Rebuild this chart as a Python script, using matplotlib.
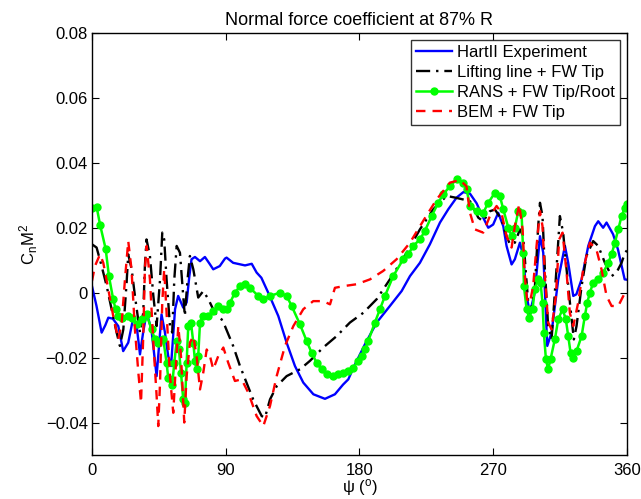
import matplotlib
matplotlib.use("Agg")
import matplotlib.pyplot as plt

plt.rcParams['font.family'] = ['Liberation Sans', 'DejaVu Sans']
plt.rcParams['mathtext.fontset'] = 'custom'
plt.rcParams['mathtext.rm'] = 'Liberation Sans'
plt.rcParams['mathtext.it'] = 'Liberation Sans:italic'
plt.rcParams['axes.unicode_minus'] = True

title = "Normal force coefficient at 87% R"
series_names = ["HartII Experiment", "Lifting line + FW Tip", "RANS + FW Tip/Root", "BEM + FW Tip"]
x_ticks = [0, 90, 180, 270, 360]
y_ticks = [-0.04, -0.02, 0, 0.02, 0.04, 0.06, 0.08]
y_ticklabels = ["\u22120.04", "\u22120.02", "0", "0.02", "0.04", "0.06", "0.08"]

hart_psi = [0, 3, 6.5, 9, 11, 14, 17.7, 21, 24.4, 27.8, 30, 32.3, 34.5, 36.8, 40, 43.5, 46.8, 49, 51.3, 53.2,
            55.9, 58, 61.4, 63.7, 65.5, 67, 69.3, 72.7, 76, 79, 81.6, 86, 89.5, 90.6, 95, 99, 103, 107.5, 110.8,
            114, 118.6, 125.4, 131, 136.6, 142.2, 149, 156.8, 163.5, 169, 172.5, 177, 183.7, 191.6, 200.5, 208.4,
            214, 220.7, 227.4, 234.2, 239.8, 245.4, 250, 254.4, 258.9, 262.2, 266.7, 270, 273.4, 276.8, 279,
            282.4, 284.6, 288, 290.2, 292.5, 294.7, 298, 301.5, 303.7, 306.4, 309.3, 313.8, 318.3, 320.5, 323.9,
            326, 329.5, 334, 338.5, 340.7, 344, 346.3, 350.7, 354, 358.5, 360]
hart_c = [0.002, -0.004, -0.0123, -0.010, -0.0077, -0.008, -0.0103, -0.018, -0.0154, -0.0077, -0.010, -0.019,
          -0.012, -0.0062, -0.0113, -0.0257, -0.0067, -0.012, -0.0195, -0.0226, -0.0051, -0.001, -0.0046, -0.003,
          0.005, 0.0103, 0.011, 0.0097, 0.011, 0.009, 0.0072, 0.0082, 0.0105, 0.0108, 0.0092, 0.0088, 0.0084,
          0.0089, 0.0062, 0.0046, 0.0, -0.0072, -0.0154, -0.0226, -0.0277, -0.0313, -0.0327, -0.0313, -0.0283,
          -0.0267, -0.0221, -0.0159, -0.0092, -0.0041, 0.0005, 0.0051, 0.0092, 0.0149, 0.0216, 0.0257, 0.0293,
          0.031, 0.0305, 0.0275, 0.0241, 0.020, 0.021, 0.0246, 0.0205, 0.0144, 0.0087, 0.0103, 0.0154, 0.0113,
          -0.001, -0.0062, 0.0, 0.0174, 0.0123, -0.0164, -0.0123, 0.0041, 0.0144, 0.0092, -0.001, -0.0005,
          0.0041, 0.0144, 0.0205, 0.022, 0.020, 0.0216, 0.018, 0.0133, 0.0041, 0.004]

ll_psi = [0, 3.1, 6.5, 9.9, 13.2, 16.6, 18.8, 21.1, 23.3, 24.4, 26.7, 28.9, 32.3, 34.5, 35.6, 36.7, 39, 41.3,
          43.5, 45.8, 47.3, 48.6, 50.2, 52.5, 54, 55.4, 57, 59.2, 61.4, 62.5, 64.3, 65.9, 68.2, 71.5, 74.9, 78.3,
          82.7, 87.2, 89.5, 95, 99.6, 104, 108.5, 114.2, 116.4, 119.8, 124.3, 131, 140, 146.7, 155.6, 164.6,
          173.6, 182.6, 191.6, 200.5, 211.8, 220.7, 229.7, 238.7, 244.3, 249.9, 254.4, 260, 263.3, 267.8, 271.2,
          275.6, 279, 281.3, 284.6, 288, 290.2, 292, 293.6, 295.1, 298, 300.3, 301.5, 303.2, 304.8, 307, 309.3,
          312.6, 314.9, 317.1, 319.4, 322.1, 324.3, 326.1, 329.5, 332.8, 337.3, 340.7, 345.2, 349.7, 353, 356.4,
          358.7, 360]
ll_c = [0.0149, 0.0139, 0.0082, 0.002, -0.0051, -0.0123, -0.0164, -0.0113, 0.0031, 0.0118, 0.0072, -0.001,
        -0.0123, -0.0062, 0.0082, 0.0164, 0.0113, -0.001, -0.0103, 0.0041, 0.0185, 0.0164, 0.0041, -0.0103,
        -0.0123, 0.0041, 0.0144, 0.0123, -0.001, -0.0072, 0.0041, 0.0113, 0.0072, -0.0015, 0.0005, -0.002,
        -0.0062, -0.0082, -0.0103, -0.0164, -0.0226, -0.0277, -0.0329, -0.038, -0.0385, -0.0329, -0.0288,
        -0.0257, -0.0236, -0.021, -0.0169, -0.0134, -0.0092, -0.0062, -0.002, 0.0041, 0.0123, 0.0195, 0.0257,
        0.0298, 0.0293, 0.0287, 0.0282, 0.0231, 0.022, 0.0251, 0.0256, 0.0226, 0.0174, 0.0149, 0.0154, 0.0195,
        0.0174, 0.0062, -0.0031, -0.0062, 0.001, 0.0205, 0.0277, 0.0236, 0.0072, -0.0103, -0.0144, 0.0072,
        0.0236, 0.0185, 0.0072, -0.0051, -0.0144, -0.0103, 0.002, 0.0113, 0.0159, 0.0144, 0.0092, 0.0051,
        0.0062, 0.0092, 0.0123, 0.013]

rans_psi = [0, 3.1, 5.4, 9.2, 11.4, 14.3, 15.9, 17.7, 20, 24.4, 26.6, 30, 33.4, 36.7, 40.1, 42.4, 44.6, 48,
            50.2, 51.3, 54, 55.4, 57, 58.5, 59.9, 61.4, 62.6, 63.7, 64.8, 66.6, 68.2, 69.3, 70.4, 71.5, 72.7,
            74.9, 78.3, 81.6, 85, 88.4, 90.6, 92.9, 96.2, 99.6, 103, 106.3, 111.9, 115.3, 119.8, 126.5, 131,
            134.4, 140, 144.5, 147.8, 151.2, 154.5, 157.9, 162.4, 165.7, 169.1, 172.5, 175.8, 179.2, 181.4,
            183.7, 185.9, 190.4, 193.8, 197.2, 202.7, 209.5, 212.8, 216.2, 220.7, 224, 228.6, 233, 236.4, 240.9,
            245.4, 249.8, 252.1, 254.4, 258.9, 263.3, 266.7, 271.2, 274.5, 276.8, 280.2, 282.4, 284.6, 286.9,
            289.1, 290.2, 290.7, 292.5, 294.2, 296.5, 298, 300.3, 301.9, 303.2, 304.1, 305.5, 307, 308.6, 311.5,
            313.8, 316.7, 318.9, 320.5, 322.1, 323.9, 326.1, 329.5, 331.7, 333.3, 335.1, 337.3, 340.7, 344.1,
            347.4, 349.7, 351.9, 354.2, 356.4, 358.7, 360]
rans_c = [0.0262, 0.0265, 0.021, 0.0135, 0.0051, -0.0021, -0.0051, -0.0072, -0.0077, -0.0072, -0.0077,
          -0.0098, -0.0082, -0.0067, -0.0113, -0.0144, -0.0154, -0.0144, -0.0216, -0.0262, -0.0283, -0.0216,
          -0.0149, -0.0175, -0.0246, -0.0329, -0.0339, -0.0216, -0.0103, -0.0092, -0.0154, -0.021, -0.0236,
          -0.0195, -0.0092, -0.0072, -0.0072, -0.0057, -0.0041, -0.0051, -0.0051, -0.0031, 0.0, 0.002, 0.0026,
          0.0015, -0.001, -0.0021, -0.001, 0.0, -0.001, -0.0041, -0.0098, -0.0149, -0.0185, -0.0216, -0.0236,
          -0.0252, -0.0257, -0.0252, -0.0246, -0.0241, -0.0231, -0.021, -0.0195, -0.0175, -0.0149, -0.0092,
          -0.0051, -0.001, 0.0051, 0.0103, 0.0118, 0.0144, 0.0164, 0.019, 0.0236, 0.0277, 0.0303, 0.0328,
          0.0349, 0.0339, 0.0318, 0.0267, 0.0251, 0.0246, 0.0277, 0.0308, 0.0298, 0.0257, 0.020, 0.0174, 0.020,
          0.0251, 0.0246, 0.0123, 0.002, -0.0051, -0.0077, -0.0051, 0.001, 0.0041, 0.0031, -0.0031, -0.0123,
          -0.0205, -0.0236, -0.0205, -0.0144, -0.0082, -0.0051, -0.0082, -0.0134, -0.0185, -0.020, -0.018,
          -0.0134, -0.0072, -0.0031, 0.0, 0.0031, 0.0041, 0.0062, 0.0092, 0.0118, 0.0154, 0.0195, 0.0236, 0.0262,
          0.0272]

bem_psi = [0, 2, 5.4, 7.6, 11, 14.3, 17.7, 20, 22.2, 24.4, 26.6, 28.9, 31.2, 33, 34.5, 35.6, 36.8, 39, 41.3,
           43.5, 44.6, 45.8, 47.3, 48.6, 50.2, 52.5, 54.7, 56.3, 58.1, 59.9, 62.1, 63.7, 65.9, 68.2, 70.4, 72.7,
           74.9, 77.2, 79.4, 81.6, 85, 88.4, 91.7, 96.2, 100.7, 105.2, 110.8, 115.3, 119.8, 124.3, 129.9, 135.5,
           142.2, 148.9, 155.6, 160.2, 163.5, 169.1, 178.1, 187.1, 196, 205, 214, 222.9, 231.9, 240.9, 247.6,
           252, 254.4, 257.7, 263.3, 267.8, 272.3, 275.6, 279, 282.4, 284.6, 287.5, 289.8, 291.3, 292.8, 294.7,
           296.9, 299.2, 301.5, 303.2, 304.8, 307, 309.3, 312.2, 314.4, 316.7, 319.4, 321.6, 323.9, 327.2, 330.6,
           335.1, 339.5, 342.9, 346.3, 349.7, 354.2, 358.7, 360]
bem_c = [0.0036, 0.0082, 0.0118, 0.0092, 0.001, -0.0072, -0.0144, -0.0092, 0.0041, 0.0159, 0.0072, -0.0113,
         -0.0246, -0.0339, -0.0134, 0.0072, 0.0144, 0.0041, -0.0154, -0.0318, -0.0411, -0.0277, -0.0031, 0.0072,
         -0.0062, -0.0257, -0.037, -0.0236, -0.0103, -0.0195, -0.040, -0.0257, -0.0154, -0.0134, -0.0195,
         -0.0298, -0.0246, -0.0175, -0.0195, -0.0236, -0.0195, -0.0169, -0.0216, -0.0272, -0.0267, -0.0308,
         -0.038, -0.0411, -0.0349, -0.0257, -0.0164, -0.0103, -0.0051, -0.0026, -0.0026, -0.0036, 0.0015, 0.002,
         0.0026, 0.0041, 0.0067, 0.0103, 0.0154, 0.0221, 0.0287, 0.0339, 0.0347, 0.0328, 0.0246, 0.0195, 0.0185,
         0.0236, 0.0267, 0.0246, 0.0174, 0.0139, 0.0205, 0.0272, 0.0195, 0.0051, -0.0021, -0.0031, 0.002,
         0.0144, 0.0251, 0.0205, 0.0051, -0.0092, -0.0113, -0.001, 0.0164, 0.0185, 0.0062, -0.0062, -0.0103,
         -0.0031, 0.0072, 0.0154, 0.0133, 0.0072, -0.001, -0.0041, -0.0041, 0.0, 0.0005]

fig = plt.figure(figsize=(6.41, 4.99), dpi=100)
ax = fig.add_axes([0.1435, 0.0882, 0.8345, 0.8457])

ax.plot(hart_psi, hart_c, color=(0, 0, 1), lw=1.7, label=series_names[0])
ax.plot(ll_psi, ll_c, color='black', lw=1.7, linestyle=(0, (6, 2.5, 1, 2.5)), label=series_names[1])
ax.plot(rans_psi, rans_c, color=(0, 1, 0), lw=1.8, marker='o', markersize=5, label=series_names[2])
ax.plot(bem_psi, bem_c, color=(1, 0, 0), lw=1.7, linestyle=(0, (4, 3)), label=series_names[3])

ax.set_xlim(0, 360)
ax.set_ylim(-0.05, 0.08)
ax.set_xticks(x_ticks)
ax.set_yticks(y_ticks)
ax.set_yticklabels(y_ticklabels)
ax.tick_params(direction='in', top=True, right=True, length=5, width=0.8, labelsize=12)
ax.tick_params(axis='y', pad=3)
ax.tick_params(axis='x', pad=6)
for s in ax.spines.values():
    s.set_linewidth(1.0)

ax.set_title(title, fontsize=13, pad=6)
ax.set_xlabel('\u03c8 ($^\\mathrm{o}$)', fontsize=12, labelpad=-1)
ax.set_ylabel('C$_\\mathrm{n}$M$^2$', fontsize=12, labelpad=4)

leg = ax.legend(loc='upper right', fontsize=12, frameon=True, fancybox=False, edgecolor='black',
                handlelength=2.2, handletextpad=0.3, borderpad=0.3, labelspacing=0.3,
                borderaxespad=0.4, markerscale=1.0)
leg.get_frame().set_linewidth(1.0)

fig.savefig('out.png', dpi=100)
